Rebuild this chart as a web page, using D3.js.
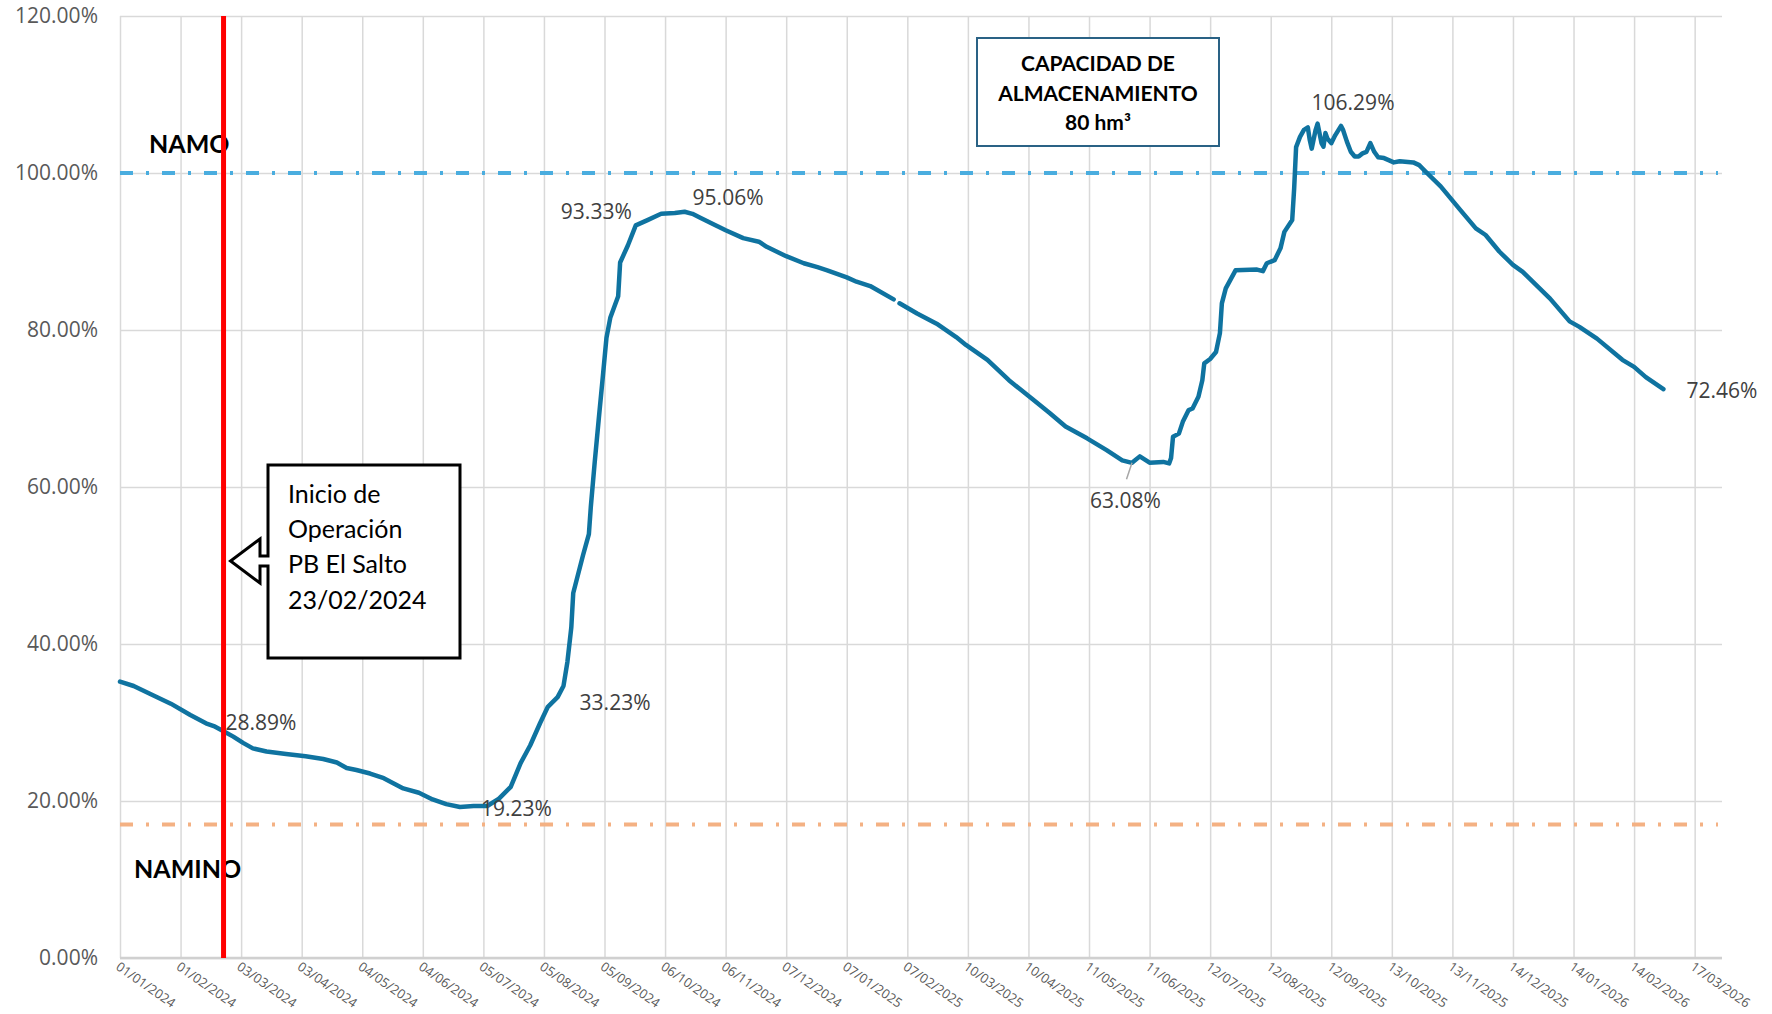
<!DOCTYPE html>
<html>
<head>
<meta charset="utf-8">
<script src="https://cdn.jsdelivr.net/npm/d3@7"></script>
<style>
    body { margin: 0; background: #ffffff; }
    svg { display: block; }
</style>
</head>
<body>
<svg id="chart"></svg>
<script>

// DATA

const tickLabels = [
    "01/01/2024", "01/02/2024", "03/03/2024", "03/04/2024", "04/05/2024", "04/06/2024",
    "05/07/2024", "05/08/2024", "05/09/2024", "06/10/2024", "06/11/2024", "07/12/2024",
    "07/01/2025", "07/02/2025", "10/03/2025", "10/04/2025", "11/05/2025", "11/06/2025",
    "12/07/2025", "12/08/2025", "12/09/2025", "13/10/2025", "13/11/2025", "14/12/2025",
    "14/01/2026", "14/02/2026", "17/03/2026"
];

const yTicks = [0, 20, 40, 60, 80, 100, 120];

const seriesDates = [
    "01/01/2024", "08/01/2024", "16/01/2024", "27/01/2024", "06/02/2024", "14/02/2024",
    "18/02/2024", "23/02/2024", "28/02/2024", "04/03/2024", "09/03/2024", "16/03/2024",
    "26/03/2024", "05/04/2024", "14/04/2024", "21/04/2024", "26/04/2024", "01/05/2024",
    "08/05/2024", "15/05/2024", "25/05/2024", "02/06/2024", "09/06/2024", "16/06/2024",
    "23/06/2024", "30/06/2024", "07/07/2024", "13/07/2024", "19/07/2024", "24/07/2024",
    "29/07/2024", "03/08/2024", "07/08/2024", "12/08/2024", "15/08/2024", "17/08/2024",
    "19/08/2024", "20/08/2024", "25/08/2024", "28/08/2024", "29/08/2024", "31/08/2024",
    "02/09/2024", "04/09/2024", "06/09/2024", "08/09/2024", "12/09/2024", "13/09/2024",
    "17/09/2024", "21/09/2024", "27/09/2024", "04/10/2024", "11/10/2024", "16/10/2024",
    "20/10/2024", "24/10/2024", "06/11/2024", "15/11/2024", "23/11/2024", "27/11/2024",
    "07/12/2024", "16/12/2024", "23/12/2024", "28/12/2024",
    "07/01/2025", "12/01/2025", "19/01/2025", "31/01/2025", "01/02/2025", "03/02/2025",
    "12/02/2025", "22/02/2025", "04/03/2025", "09/03/2025", "20/03/2025", "31/03/2025",
    "12/04/2025", "21/04/2025", "29/04/2025", "10/05/2025", "20/05/2025", "28/05/2025",
    "02/06/2025", "06/06/2025", "11/06/2025", "18/06/2025", "21/06/2025", "22/06/2025",
    "23/06/2025", "26/06/2025", "28/06/2025", "01/07/2025", "03/07/2025", "06/07/2025",
    "08/07/2025", "09/07/2025", "12/07/2025", "15/07/2025", "17/07/2025", "18/07/2025",
    "20/07/2025", "25/07/2025", "05/08/2025", "08/08/2025", "10/08/2025", "14/08/2025",
    "17/08/2025", "19/08/2025", "23/08/2025", "24/08/2025", "25/08/2025", "27/08/2025",
    "29/08/2025", "31/08/2025", "01/09/2025", "02/09/2025", "04/09/2025", "05/09/2025",
    "07/09/2025", "08/09/2025", "09/09/2025", "10/09/2025", "12/09/2025", "14/09/2025",
    "17/09/2025", "18/09/2025", "20/09/2025", "22/09/2025", "24/09/2025", "26/09/2025",
    "28/09/2025", "30/09/2025", "02/10/2025", "04/10/2025", "06/10/2025", "09/10/2025",
    "14/10/2025", "17/10/2025", "24/10/2025", "27/10/2025", "31/10/2025", "07/11/2025",
    "12/11/2025", "17/11/2025", "25/11/2025", "30/11/2025", "07/12/2025", "14/12/2025",
    "19/12/2025",
    "02/01/2026", "12/01/2026", "17/01/2026", "26/01/2026", "08/02/2026", "14/02/2026",
    "20/02/2026", "01/03/2026"
];

const seriesValues = [
    35.2, 34.65, 33.7, 32.4, 30.95, 29.9,
    29.55, 28.89, 28.2, 27.4, 26.7, 26.3,
    26.0, 25.7, 25.35, 24.9, 24.2, 23.95,
    23.5, 22.9, 21.6, 21.05, 20.2, 19.6,
    19.23, 19.36, 19.36, 20.3, 21.8, 24.8,
    27.1, 29.9, 32.0, 33.23, 34.65, 37.7,
    42.1, 46.5, 51.3, 54.0, 57.5, 63.2,
    68.5, 73.7, 79.0, 81.6, 84.3, 88.6,
    90.8, 93.33, 94.0, 94.8, 94.9, 95.06,
    94.8, 94.3, 92.7, 91.7, 91.25, 90.6,
    89.4, 88.5, 88.0, 87.6,
    86.7, 86.15, 85.6, 83.9, null, 83.4,
    82.1, 80.8, 79.1, 78.1, 76.2, 73.6,
    71.2, 69.4, 67.7, 66.2, 64.7, 63.4,
    63.08, 63.9, 63.1, 63.2, 63.0, 63.7,
    66.4, 66.8, 68.3, 69.8, 70.0, 71.5,
    73.6, 75.75, 76.3, 77.2, 79.6, 83.4,
    85.3, 87.6, 87.7, 87.5, 88.5, 88.9,
    90.4, 92.5, 94.0, 98.0, 103.3, 104.6,
    105.5, 105.8, 104.2, 103.1, 105.5, 106.29,
    103.8, 103.35, 105.1, 104.4, 103.8, 104.8,
    106.0, 105.5, 104.0, 102.7, 102.1, 102.1,
    102.5, 102.7, 103.8, 102.7, 102.0, 101.9,
    101.35, 101.5, 101.35, 101.0, 100.0, 98.3,
    96.8, 95.3, 92.95, 92.1, 90.0, 88.3,
    87.4,
    84.0, 81.1, 80.4, 78.9, 76.2, 75.3,
    74.0, 72.46
];

// labelled points
const labelDates = ["23/02/2024", "23/06/2024", "12/08/2024", "21/09/2024", "16/10/2024", "02/06/2025", "05/09/2025", "01/03/2026"];
const labelValues = [28.89, 19.23, 33.23, 93.33, 95.06, 63.08, 106.29, 72.46];

// NAMO / NAMINO levels
const levelNames = ["NAMO", "NAMINO"];
const levelValues = [100, 17];

const startDate = "23/02/2024";
const startText = ["Inicio de", "Operación", "PB El Salto", "23/02/2024"];
const capacityText = ["CAPACIDAD DE", "ALMACENAMIENTO", "80 hm³"];



// SETUP

const parseDate = d3.timeParse("%d/%m/%Y");

const chartWidth = 1772;
const chartHeight = 1014;

const plotLeft = 120;
const plotRight = 1722;
const plotTop = 16;
const plotBottom = 958;

const svg = d3.select("#chart")
    .attr("width", chartWidth)
    .attr("height", chartHeight);

const x = d3.scaleTime()
    .domain([parseDate("01/01/2024"), parseDate("31/03/2026")])
    .range([plotLeft, plotRight]);

const y = d3.scaleLinear()
    .domain([0, 120])
    .range([plotBottom, plotTop]);

const series = seriesDates.map(function (d, i) {
    return { date: parseDate(d), value: seriesValues[i] };
});



// GRID + AXES

const xAxis = svg.append("g")
    .attr("transform", "translate(0," + plotBottom + ")")
    .call(d3.axisBottom(x)
        .tickValues(tickLabels.map(parseDate))
        .tickSize(-(plotBottom - plotTop))
        .tickFormat(d3.timeFormat("%d/%m/%Y")));

xAxis.select(".domain").remove();

xAxis.selectAll(".tick line")
    .attr("stroke", "#d9d9d9")
    .attr("stroke-width", 1.5);

xAxis.selectAll(".tick text")
    .attr("x", 0)
    .attr("y", 0)
    .attr("dy", "0.35em")
    .attr("transform", "translate(-3, 7) rotate(35)")
    .attr("text-anchor", "start")
    .attr("fill", "#595959")
    .attr("font-family", "'Open Sans', sans-serif")
    .attr("font-size", 13);

const yAxis = svg.append("g")
    .attr("transform", "translate(" + plotLeft + ",0)")
    .call(d3.axisLeft(y)
        .tickValues(yTicks)
        .tickSize(-(plotRight - plotLeft))
        .tickPadding(22)
        .tickFormat(function (d) { return d.toFixed(2) + "%"; }));

yAxis.select(".domain").remove();

yAxis.selectAll(".tick line")
    .attr("stroke", "#d9d9d9")
    .attr("stroke-width", 1.5);

yAxis.selectAll(".tick text")
    .attr("fill", "#595959")
    .attr("font-family", "'Open Sans', sans-serif")
    .attr("font-size", 21);

svg.append("line")
    .attr("x1", plotLeft)
    .attr("x2", plotRight)
    .attr("y1", plotBottom)
    .attr("y2", plotBottom)
    .attr("stroke", "#d0d0d0")
    .attr("stroke-width", 2.5);



// NAMO / NAMINO

const levelColors = ["#4aaddf", "#f4b183"];
const levelTextOffsets = [{ x: 149, dy: -20 }, { x: 134, dy: 53 }];

for (let i = 0; i < levelValues.length; i++) {

    svg.append("line")
        .attr("x1", plotLeft)
        .attr("x2", plotRight - 4)
        .attr("y1", y(levelValues[i]))
        .attr("y2", y(levelValues[i]))
        .attr("stroke", levelColors[i])
        .attr("stroke-width", 4)
        .attr("stroke-dasharray", "13,13,3,13");

    svg.append("text")
        .attr("x", levelTextOffsets[i].x)
        .attr("y", y(levelValues[i]) + levelTextOffsets[i].dy)
        .attr("font-family", "Lato, sans-serif")
        .attr("font-weight", "bold")
        .attr("font-size", 25)
        .attr("fill", "#000000")
        .text(levelNames[i]);

}



// SERIES

const line = d3.line()
    .defined(function (d) { return d.value !== null; })
    .x(function (d) { return x(d.date); })
    .y(function (d) { return y(d.value); });

svg.append("path")
    .datum(series)
    .attr("d", line)
    .attr("fill", "none")
    .attr("stroke", "#0f73a0")
    .attr("stroke-width", 4.5)
    .attr("stroke-linejoin", "round")
    .attr("stroke-linecap", "round");



// RED START LINE

const startX = x(parseDate(startDate));

svg.append("line")
    .attr("x1", startX)
    .attr("x2", startX)
    .attr("y1", plotTop)
    .attr("y2", plotBottom)
    .attr("stroke", "#ff0000")
    .attr("stroke-width", 5);



// DATA LABELS

const labelOffsets = [
    { dx: 2, dy: -1, anchor: "start" },
    { dx: 21, dy: 9, anchor: "start" },
    { dx: 22, dy: 13, anchor: "start" },
    { dx: -4, dy: -6, anchor: "end" },
    { dx: 8, dy: -7, anchor: "start" },
    { dx: -42, dy: 45, anchor: "start" },
    { dx: -6, dy: -14, anchor: "start" },
    { dx: 23, dy: 9, anchor: "start" }
];

for (let i = 0; i < labelDates.length; i++) {

    let px = x(parseDate(labelDates[i]));
    let py = y(labelValues[i]);

    svg.append("text")
        .attr("x", px + labelOffsets[i].dx)
        .attr("y", py + labelOffsets[i].dy)
        .attr("text-anchor", labelOffsets[i].anchor)
        .attr("font-family", "'Open Sans', sans-serif")
        .attr("font-size", 21)
        .attr("fill", "#404040")
        .text(labelValues[i].toFixed(2) + "%");

}

// leader line for the 63.08% label
let minX = x(parseDate(labelDates[5]));
let minY = y(labelValues[5]);

svg.append("line")
    .attr("x1", minX)
    .attr("y1", minY)
    .attr("x2", minX - 5.5)
    .attr("y2", minY + 16.5)
    .attr("stroke", "#a6a6a6")
    .attr("stroke-width", 1.5);



// CAPACITY BOX

svg.append("rect")
    .attr("x", 977)
    .attr("y", 38)
    .attr("width", 242)
    .attr("height", 108)
    .attr("fill", "#ffffff")
    .attr("stroke", "#2a6285")
    .attr("stroke-width", 2);

for (let i = 0; i < capacityText.length; i++) {

    svg.append("text")
        .attr("x", 1098)
        .attr("y", 71 + i * 29.5)
        .attr("text-anchor", "middle")
        .attr("font-family", "Lato, sans-serif")
        .attr("font-weight", "bold")
        .attr("font-size", 21)
        .attr("fill", "#000000")
        .text(capacityText[i]);

}



// START CALLOUT

svg.append("path")
    .attr("d",
        "M268,465 L460,465 L460,658 L268,658 L268,566 L260,566 L260,583 L" + (startX + 7) + ",561 " +
        "L260,539 L260,556 L268,556 Z")
    .attr("fill", "#ffffff")
    .attr("stroke", "#000000")
    .attr("stroke-width", 3);

for (let i = 0; i < startText.length; i++) {

    svg.append("text")
        .attr("x", 288)
        .attr("y", 503 + i * 35.2)
        .attr("font-family", "Lato, sans-serif")
        .attr("font-size", 25)
        .attr("fill", "#000000")
        .text(startText[i]);

}

</script>
</body>
</html>
